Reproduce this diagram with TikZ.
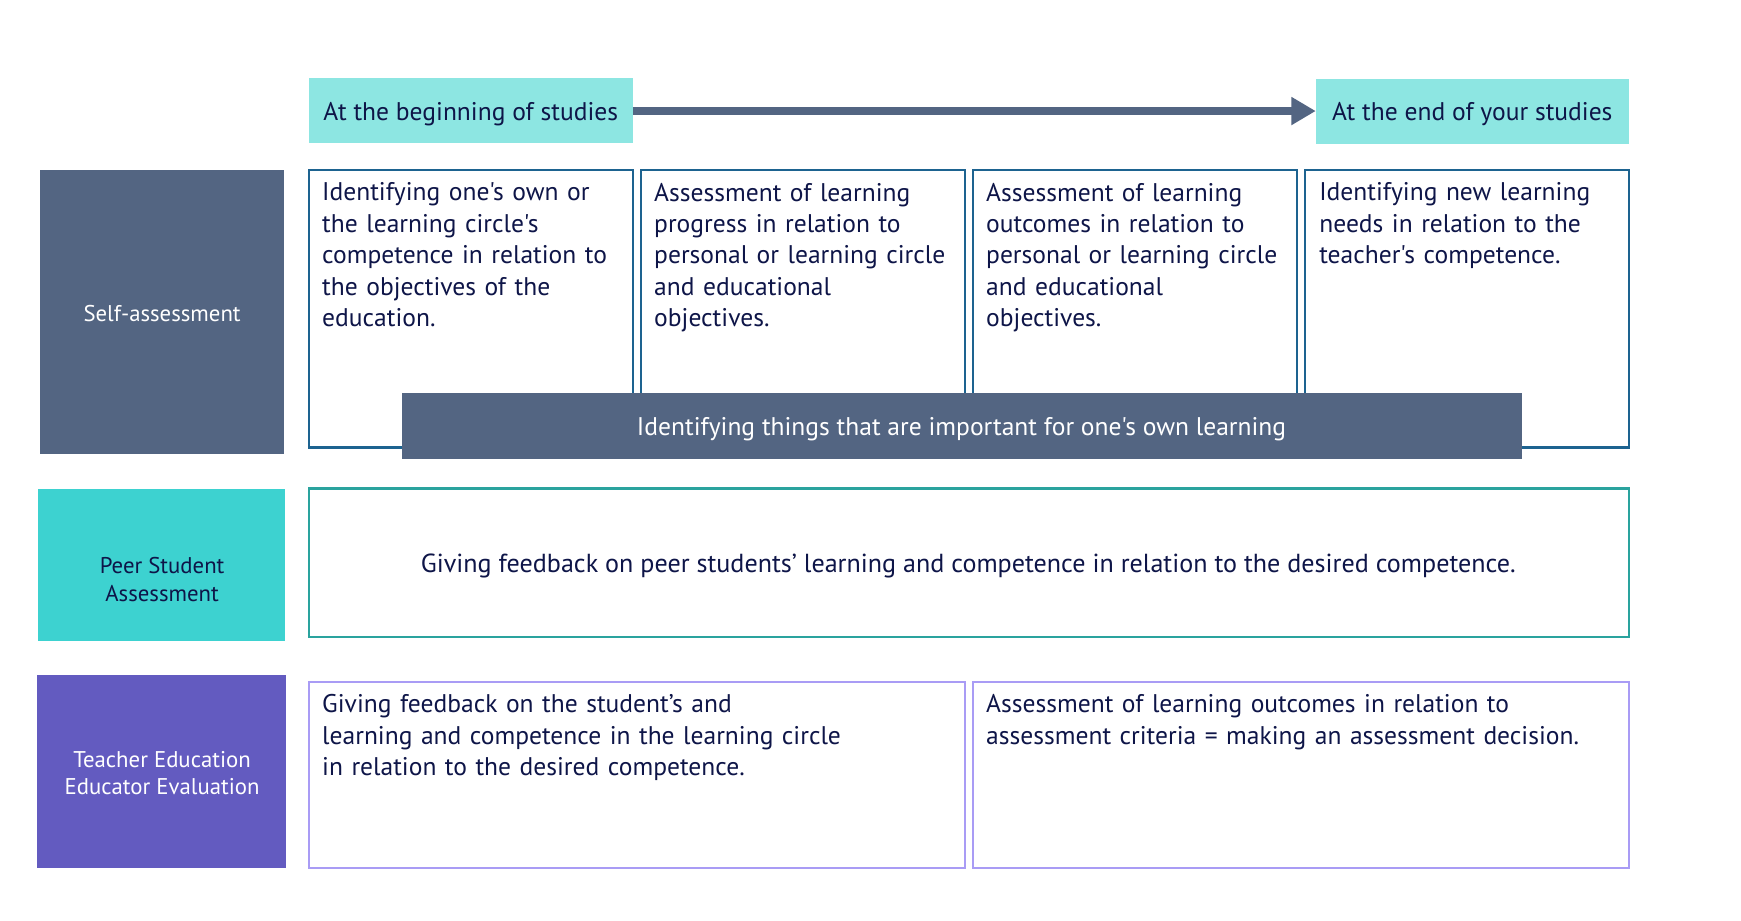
\documentclass[tikz,border=0pt]{standalone}
\usepackage{fontspec}
\newfontfamily\mainf{PT Sans}
\usetikzlibrary{arrows.meta,positioning}
\definecolor{slate}{HTML}{536582}
\definecolor{aqua}{HTML}{8DE6E2}
\definecolor{peer}{HTML}{3DD2D0}
\definecolor{purp}{HTML}{635BC0}
\definecolor{navy}{HTML}{0E1548}
\definecolor{blueline}{HTML}{1D6390}
\definecolor{tealline}{HTML}{2AA39E}
\definecolor{lilac}{HTML}{A99CF5}
\begin{document}
\begin{tikzpicture}[x=1pt,y=-1pt,
  txt/.style={font=\mainf\fontsize{23}{28.3}\selectfont, text=navy, align=left, inner sep=0pt},
  lbl/.style={font=\mainf\fontsize{20.5}{24.5}\selectfont, align=center, inner sep=0pt},
  cell/.style={line width=2pt},
  sabox/.style={cell, draw=blueline},
  pbox/.style={cell, draw=tealline},
  tbox/.style={cell, draw=lilac}]
\useasboundingbox[fill=white] (0,0) rectangle (1568,829.4);
% time header
\fill[aqua] (278,70) rectangle (570,129);
\node[txt, anchor=center] (beg) at (424,102.5) {At the beginning of studies};
\coordinate (begE) at (570,100);
\fill[aqua] (1185,71) rectangle (1467,130);
\node[txt, anchor=center] (end) at (1326,102.5) {At the end of your studies};
\coordinate (endW) at (1185,100);
\draw[slate, line width=7pt, -{Triangle[length=22pt,width=24pt]}] (begE) -- (endW);
% self-assessment
\fill[slate] (36,153) rectangle (256,409);
\node[lbl, text=white] (sa) at (146,282) {Self-assessment};
\draw[sabox] (278,153) rectangle (570,403);
\draw[sabox] (577,153) rectangle (869,403);
\draw[sabox] (876,153) rectangle (1168,403);
\draw[sabox] (1175,153) rectangle (1467,403);
\node[txt, anchor=north west, text width=275pt] (c1) at (290,164.5) {Identifying one's own or\\the learning circle's\\competence in relation to\\the objectives of the\\education.};
\node[txt, anchor=north west, text width=275pt] (c2) at (589,164.5) {Assessment of learning\\progress in relation to\\personal or learning circle\\and educational\\objectives.};
\node[txt, anchor=north west, text width=275pt] (c3) at (888,164.5) {Assessment of learning\\outcomes in relation to\\personal or learning circle\\and educational\\objectives.};
\node[txt, anchor=north west, text width=275pt] (c4) at (1188,164.5) {Identifying new learning\\needs in relation to the\\teacher's competence.};
\fill[slate] (362,354) rectangle (1371,413);
\node[txt, text=white, anchor=center] (ban) at (866,386.5) {Identifying things that are important for one's own learning};
% peer
\fill[peer] (34,440) rectangle (257,577);
\node[lbl, text=navy] (ps) at (146,522) {Peer Student\\Assessment};
\draw[pbox] (278,440) rectangle (1467,574);
\node[txt, anchor=center, font=\mainf\fontsize{23.5}{28.3}\selectfont] (pc) at (872,510) {Giving feedback on peer students’ learning and competence in relation to the desired competence.};
% teacher
\fill[purp] (33,608) rectangle (258,782);
\node[lbl, text=white] (te) at (146,696) {Teacher Education\\Educator Evaluation};
\draw[tbox] (278,614) rectangle (869,782);
\draw[tbox] (876,614) rectangle (1467,782);
\node[txt, anchor=north west, text width=570pt] (t1) at (290,625.5) {Giving feedback on the student’s and\\learning and competence in the learning circle\\in relation to the desired competence.};
\node[txt, anchor=north west, text width=575pt] (t2) at (888,625.5) {Assessment of learning outcomes in relation to\\assessment criteria = making an assessment decision.};
\end{tikzpicture}
\end{document}
